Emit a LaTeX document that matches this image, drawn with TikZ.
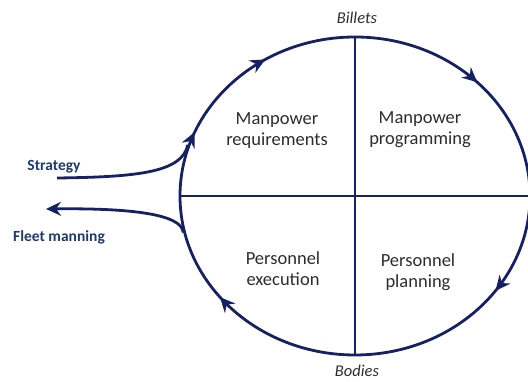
\documentclass[tikz,border=0pt]{standalone}
\usepackage{fontspec}
\setmainfont{Carlito}
\usetikzlibrary{arrows.meta,shapes.geometric,decorations.markings}
\definecolor{navy}{RGB}{22,32,100}
\definecolor{labelblue}{RGB}{30,58,110}
\definecolor{textgray}{RGB}{45,45,45}
\newcommand{\cycletip}{\arrowreversed{Stealth[length=15pt,width=14pt,inset=5pt]}}

\begin{document}
\begin{tikzpicture}
    [x=1pt, y=1pt,
    quarter/.style = {align=center, text=textgray, font=\fontsize{18.5}{21}\selectfont},
    pole/.style = {text=textgray, font=\fontsize{16.5}{18}\selectfont\itshape},
    flow/.style = {text=labelblue, font=\fontsize{15.5}{17}\selectfont\bfseries},
    loop/.style = {draw=navy, line width=2.8pt}]
    \useasboundingbox (0,0) rectangle (528,382);

    % the cycle and its quarters
    \node[ellipse, loop, minimum width=350pt, minimum height=318pt, inner sep=0pt,
        postaction={decorate},
        decoration={markings,
            mark=at position 0.123 with {\cycletip},
            mark=at position 0.339 with {\cycletip},
            mark=at position 0.437 with {\cycletip},
            mark=at position 0.606 with {\cycletip},
            mark=at position 0.902 with {\cycletip}}]
        (cycle) at (355,186) {};
    \draw[navy, line width=1.6pt] (cycle.north) -- (cycle.south);
    \draw[navy, line width=1.6pt] (cycle.west) -- (cycle.east);

    \node[quarter] (req)  at (277,251) {Manpower\\requirements};
    \node[quarter] (prog) at (420,252) {Manpower\\programming};
    \node[quarter] (exec) at (283,113) {Personnel\\execution};
    \node[quarter] (plan) at (418,110) {Personnel\\planning};

    \node[pole] (billets) at (357,364) {Billets};
    \node[pole] (bodies)  at (357,11)  {Bodies};

    % in and out
    \node[flow] (strategy) at (54,215) {Strategy};
    \node[flow] (fleet)    at (59,145) {Fleet manning};
    \coordinate (in)  at (57,204);
    \coordinate (out) at (46,173);
    \draw[loop] (in) .. controls (140,205) and (182,210) .. (cycle.163);
    \draw[loop, -{Stealth[length=15pt,width=14pt,inset=5pt]}]
        (cycle.192) .. controls (182,168) and (130,174) .. (out);
\end{tikzpicture}
\end{document}
